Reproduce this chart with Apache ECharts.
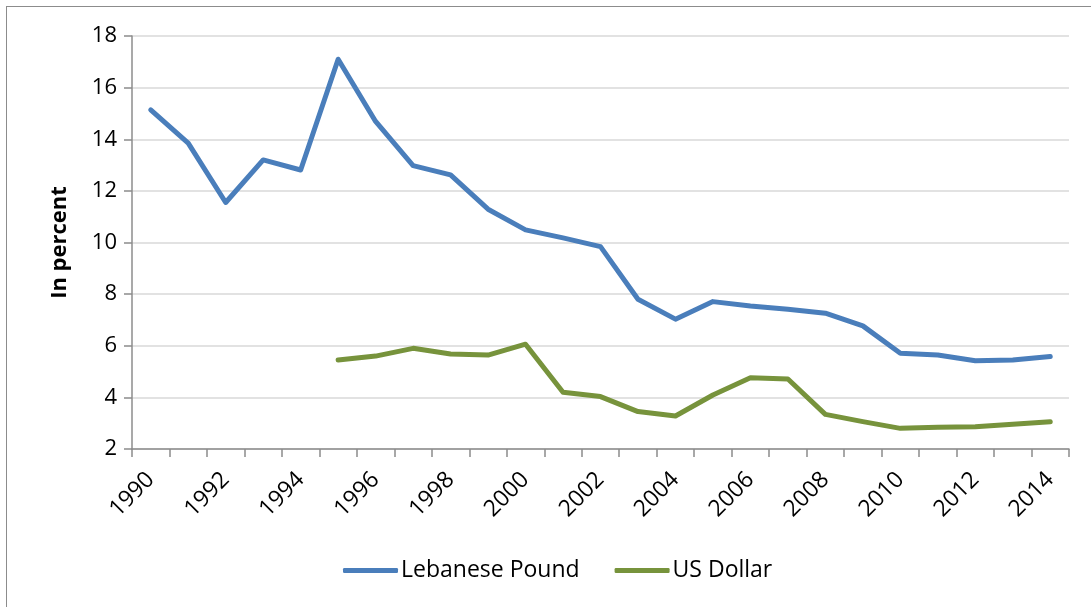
<!DOCTYPE html>
<html>
<head>
<meta charset="utf-8">
<script src="https://cdn.jsdelivr.net/npm/echarts@6/dist/echarts.min.js"></script>
<style>
  html, body { margin: 0; padding: 0; background: #fff; overflow: hidden; }
  #chart { width: 1091px; height: 607px; position: relative; }
  #frame {
    position: absolute; left: 6px; top: 6px; width: 1120px; height: 640px;
    border: 1.5px solid #8c8c8c; pointer-events: none;
  }
</style>
</head>
<body>
<div id="chart"></div>
<div id="frame"></div>
<script>
const years = ['1990', '1991', '1992', '1993', '1994', '1995', '1996', '1997', '1998', '1999',
  '2000', '2001', '2002', '2003', '2004', '2005', '2006', '2007', '2008', '2009',
  '2010', '2011', '2012', '2013', '2014']

const lebanesePound = [15.14, 13.85, 11.55, 13.2, 12.81, 17.1, 14.69, 12.98, 12.62, 11.29,
  10.49, 10.18, 9.84, 7.8, 7.03, 7.71, 7.54, 7.41, 7.26, 6.77,
  5.71, 5.64, 5.42, 5.45, 5.58]

const usDollar = [null, null, null, null, null, 5.45, 5.6, 5.9, 5.68, 5.64,
  6.06, 4.2, 4.03, 3.45, 3.28, 4.09, 4.76, 4.71, 3.34, 3.06,
  2.8, 2.84, 2.86, 2.96, 3.06]

const colors = {
  blue: '#4a7ebb',
  green: '#77933c',
  axis: '#8c8c8c',
  grid: '#d9d9d9',
  text: '#000'
}

const font = '"Open Sans", Lato, sans-serif'

const chart = echarts.init(document.getElementById('chart'))
chart.setOption({
  animation: false,
  textStyle: { fontFamily: font },
  grid: { left: 132, right: 22, top: 36, bottom: 158 },
  legend: {
    bottom: 25,
    left: 343,
    padding: 0,
    icon: 'roundRect',
    itemWidth: 55,
    itemHeight: 5,
    itemGap: 35,
    textStyle: { color: colors.text, fontSize: 23, fontFamily: font, padding: [0, 0, 0, -2] },
    data: ['Lebanese Pound', 'US Dollar']
  },
  xAxis: {
    type: 'category',
    data: years,
    boundaryGap: true,
    axisLine: { lineStyle: { color: colors.axis, width: 1.5 } },
    axisTick: { show: true, interval: 0, length: 8, lineStyle: { color: colors.axis, width: 1.5 } },
    axisLabel: {
      interval: 1,
      rotate: 45,
      margin: 27,
      color: colors.text,
      fontSize: 23,
      fontFamily: font
    }
  },
  yAxis: {
    type: 'value',
    min: 2,
    max: 18,
    interval: 2,
    name: 'In percent',
    nameLocation: 'middle',
    nameRotate: 90,
    nameGap: 61,
    nameTextStyle: { color: colors.text, fontSize: 22, fontWeight: 'bold', fontFamily: font },
    axisLine: { show: true, lineStyle: { color: colors.axis, width: 1.5 } },
    axisTick: { show: true, length: 8, lineStyle: { color: colors.axis, width: 1.5 } },
    axisLabel: { margin: 15, color: colors.text, fontSize: 22, fontFamily: font },
    splitLine: { lineStyle: { color: colors.grid, width: 1.5 } }
  },
  series: [
    {
      name: 'Lebanese Pound',
      type: 'line',
      data: lebanesePound,
      symbol: 'none',
      color: colors.blue,
      lineStyle: { width: 5, cap: 'round', join: 'round' }
    },
    {
      name: 'US Dollar',
      type: 'line',
      data: usDollar,
      symbol: 'none',
      color: colors.green,
      lineStyle: { width: 5, cap: 'round', join: 'round' }
    }
  ]
})
</script>
</body>
</html>
